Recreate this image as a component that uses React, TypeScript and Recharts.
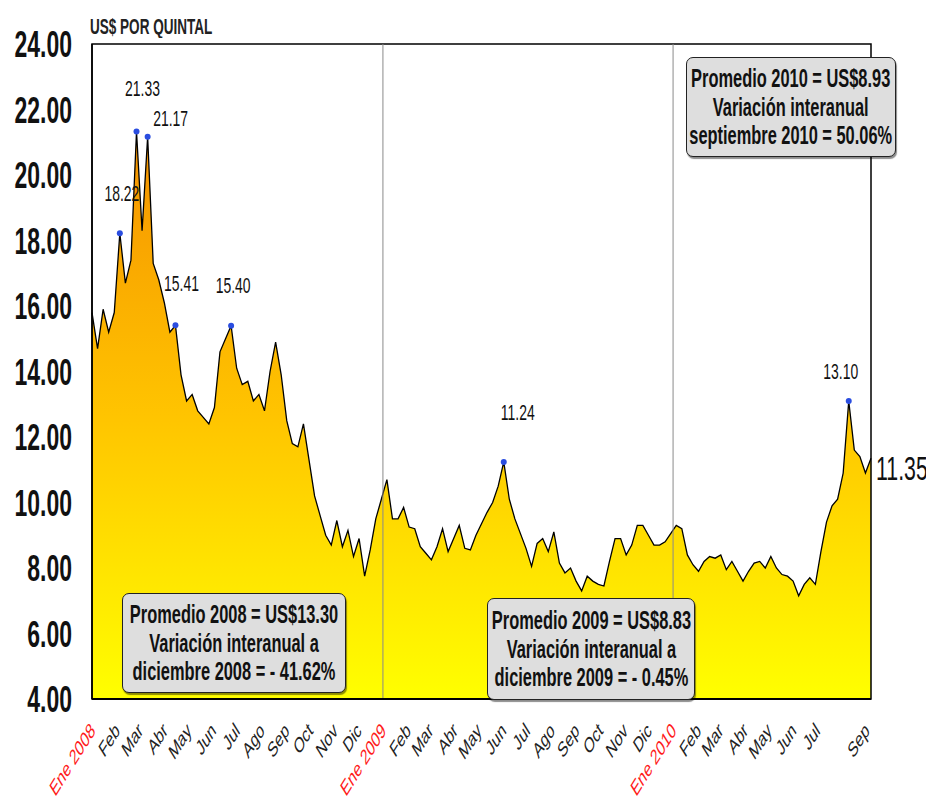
import { AreaChart, Area, XAxis, YAxis, ReferenceLine, ReferenceArea } from 'recharts';

// weekly price, US$ per quintal, week 0 = 1 Jan 2008
const PRICES = [
  15.8, 14.7, 15.9, 15.2, 15.8, 18.22, 16.7, 17.4, 21.33, 18.3,
  21.17, 17.3, 16.8, 16.1, 15.2, 15.41, 13.9, 13.1, 13.3, 12.8,
  12.6, 12.4, 12.9, 14.6, 15.0, 15.4, 14.1, 13.6, 13.7, 13.1,
  13.3, 12.8, 14.0, 14.9, 13.9, 12.5, 11.8, 11.7, 12.4, 11.3,
  10.2, 9.6, 9.0, 8.7, 9.45, 8.65, 9.15, 8.35, 8.9, 7.75,
  8.55, 9.5, 10.1, 10.7, 9.5, 9.5, 9.85, 9.25, 9.2, 8.65,
  8.45, 8.25, 8.65, 9.2, 8.5, 8.9, 9.3, 8.6, 8.55, 9.0,
  9.35, 9.7, 10.0, 10.5, 11.24, 10.1, 9.5, 9.05, 8.6, 8.05,
  8.75, 8.9, 8.5, 9.1, 8.15, 7.85, 8.0, 7.6, 7.3, 7.75,
  7.6, 7.5, 7.45, 8.2, 8.9, 8.9, 8.4, 8.7, 9.3, 9.3,
  9.0, 8.7, 8.7, 8.8, 9.05, 9.3, 9.2, 8.4, 8.1, 7.9,
  8.2, 8.35, 8.3, 8.4, 7.95, 8.2, 7.9, 7.6, 7.9, 8.15,
  8.2, 8.0, 8.35, 8.0, 7.8, 7.75, 7.6, 7.15, 7.5, 7.7,
  7.5, 8.5, 9.4, 9.9, 10.1, 10.9, 13.1, 11.6, 11.4, 10.9,
  11.35,
];

const PEAKS = [5, 8, 10, 15, 25, 74, 136];
const MONTHS = ['Ene', 'Feb', 'Mar', 'Abr', 'May', 'Jun', 'Jul', 'Ago', 'Sep', 'Oct', 'Nov', 'Dic'];
const YEARS = [2008, 2009, 2010];
const SKIPPED_TICKS = ['2010-7'];
const Y_TICKS = [4, 6, 8, 10, 12, 14, 16, 18, 20, 22, 24];

const NOTE_2008 = ['Promedio 2008 = US$13.30', 'Variación interanual a', 'diciembre 2008 = - 41.62%'];
const NOTE_2009 = ['Promedio 2009 = US$8.83', 'Variación interanual a', 'diciembre 2009 = - 0.45%'];
const NOTE_2010 = ['Promedio 2010 = US$8.93', 'Variación interanual', 'septiembre 2010 = 50.06%'];

const START = Date.UTC(2008, 0, 1);
const WEEK_MS = 7 * 86400000;
const weekOf = (y: number, m: number) => (Date.UTC(y, m, 1) - START) / WEEK_MS;
const LAST = PRICES.length - 1;

const data = PRICES.map((price, week) => ({ week, price }));

const xTicks: { week: number; label: string; red: boolean }[] = [];
YEARS.forEach((y) => {
  MONTHS.forEach((name, m) => {
    const w = weekOf(y, m);
    if (w > LAST + 0.01 || SKIPPED_TICKS.includes(`${y}-${m}`)) return;
    xTicks.push({ week: w, label: m === 0 ? `${name} ${y}` : name, red: m === 0 });
  });
});

// no narrow font installed, so Liberation Sans squeezed sideways and stretched up
const FONT = "'Liberation Sans', Arial, sans-serif";
const SQUEEZE = 0.82;

// label offsets relative to the peak dot
const PEAK_OFFSETS: Record<number, [number, number]> = {
  5: [2, -40],
  8: [6, -43],
  10: [23, -18],
  15: [6, -42],
  25: [2, -40],
  74: [14, -50],
  136: [-8, -30],
};

const YTick = ({ x, y, payload }: any) => (
  <g transform={`translate(${x - 20},${y}) scale(${SQUEEZE},1.3)`}>
    <text x={0} y={0} dy='0.36em' textAnchor='end' fontFamily={FONT} fontWeight='bold' fontSize={28} fill='#111'>
      {Number(payload.value).toFixed(2)}
    </text>
  </g>
);

const XTick = ({ x, y, payload }: any) => {
  const t = xTicks.find((k) => Math.abs(k.week - payload.value) < 0.001);
  if (!t) return <g />;
  return (
    <g transform={`translate(${x + 4},${y + 33}) scale(1,1.6)`}>
      <text transform='rotate(-45)' textAnchor='end' fontFamily={FONT} fontSize={13.5} fill={t.red ? '#ff1a1a' : '#222'}>
        {t.label}
      </text>
    </g>
  );
};

const PeakDot = (props: any) => {
  const { cx, cy, index, value } = props;
  const v = Array.isArray(value) ? value[1] : value;
  if (index === LAST) {
    return (
      <g key={index} transform={`translate(${cx + 5},${cy + 10}) scale(${SQUEEZE},1.3)`}>
        <text x={0} y={0} dy='0.36em' fontFamily={FONT} fontSize={26} fill='#111'>
          {Number(v).toFixed(2)}
        </text>
      </g>
    );
  }
  if (!PEAKS.includes(index)) return <g key={index} />;
  const [dx, dy] = PEAK_OFFSETS[index];
  return (
    <g key={index}>
      <circle cx={cx} cy={cy} r={3} fill='#2a4de0' />
      <g transform={`translate(${cx + dx},${cy + dy}) scale(${SQUEEZE},1.25)`}>
        <text x={0} y={0} dy='0.36em' textAnchor='middle' fontFamily={FONT} fontSize={17} fill='#111'>
          {Number(v).toFixed(2)}
        </text>
      </g>
    </g>
  );
};

const Note = ({ lines, left, top, width, height }: any) => (
  <div
    style={{
      position: 'absolute',
      left,
      top,
      width,
      height,
      boxSizing: 'border-box',
      background: '#dedede',
      border: '1.5px solid #222',
      borderRadius: 7,
      boxShadow: '1px 2px 1px rgba(0,0,0,0.45)',
      display: 'flex',
      alignItems: 'center',
      justifyContent: 'center',
    }}
  >
    <div
      style={{
        fontFamily: FONT,
        fontWeight: 'bold',
        fontSize: 20,
        lineHeight: '23px',
        textAlign: 'center',
        color: '#111',
        transform: `scale(${SQUEEZE},1.25)`,
        whiteSpace: 'nowrap',
        flexShrink: 0,
      }}
    >
      {lines.map((l: string) => (
        <div key={l}>{l}</div>
      ))}
    </div>
  </div>
);

export default function App() {
  return (
    <div style={{ position: 'relative', width: 926, height: 796 }}>
      <AreaChart width={926} height={796} data={data} margin={{ top: 36, right: 63, bottom: 5, left: 0 }}>
        <defs>
          <linearGradient id='fillGrad' x1='0' y1='0' x2='0' y2='1'>
            <stop offset='0%' stopColor='#f59200' />
            <stop offset='50%' stopColor='#ffc400' />
            <stop offset='100%' stopColor='#ffff00' />
          </linearGradient>
        </defs>
        <XAxis
          type='number'
          dataKey='week'
          domain={[0, LAST]}
          ticks={xTicks.map((t) => t.week)}
          interval={0}
          tick={<XTick />}
          tickSize={0}
          tickMargin={0}
          height={100}
          axisLine={{ stroke: '#000', strokeWidth: 2 }}
        />
        <YAxis
          domain={[4, 24]}
          ticks={Y_TICKS}
          interval={0}
          tick={<YTick />}
          tickSize={0}
          tickMargin={0}
          width={84}
          axisLine={{ stroke: '#000', strokeWidth: 1.5 }}
        />
        <Area
          type='linear'
          dataKey='price'
          stroke='#000'
          strokeWidth={1.3}
          fill='url(#fillGrad)'
          fillOpacity={1}
          dot={PeakDot}
          activeDot={false}
          isAnimationActive={false}
        />
        {YEARS.slice(1).map((y) => (
          <ReferenceLine key={y} x={weekOf(y, 0)} stroke='#8a8a8a' strokeWidth={1} />
        ))}
        <ReferenceArea x1={0} x2={LAST} y1={4} y2={24} fill='none' stroke='#000' strokeWidth={1.5} />
      </AreaChart>
      <div
        style={{
          position: 'absolute',
          left: 82,
          top: 6,
          fontFamily: FONT,
          fontWeight: 'bold',
          fontSize: 16.5,
          color: '#222',
          transform: `scale(${SQUEEZE},1.3)`,
          transformOrigin: 'left top',
          whiteSpace: 'nowrap',
        }}
      >
        US$ POR QUINTAL
      </div>
      <Note lines={NOTE_2008} left={114} top={585} width={224} height={100} />
      <Note lines={NOTE_2009} left={479} top={590} width={208} height={102} />
      <Note lines={NOTE_2010} left={678} top={49} width={210} height={100} />
    </div>
  );
}
